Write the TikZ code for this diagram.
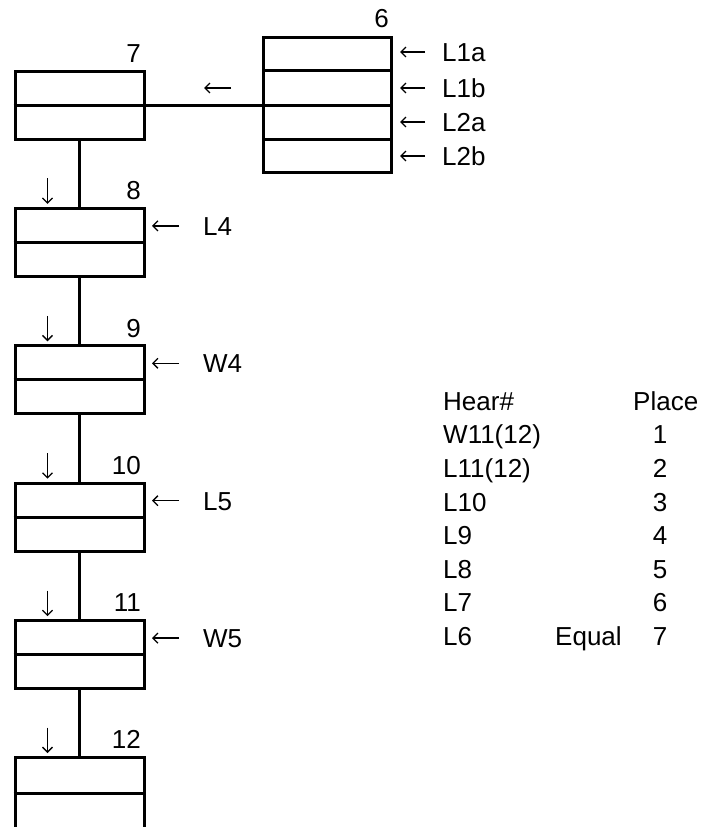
\documentclass[tikz,border=0pt]{standalone}
\usepackage{fontspec}
\setmainfont{Liberation Sans}
\usetikzlibrary{arrows.meta,calc}
\begin{document}
\begin{tikzpicture}[x=1pt,y=-1pt,
  box/.style={draw,line width=3pt,minimum width=129pt,minimum height=68pt,inner sep=0pt},
  tallbox/.style={box,minimum width=128pt,minimum height=135pt},
  txt/.style={inner sep=0pt,text height=18.6pt,text depth=0pt,font=\fontsize{26}{30}\selectfont},
  num/.style={txt,anchor=south east},
  link/.style={line width=3pt},
  pointer/.style={line width=1.3pt,-{Straight Barb[length=5pt,width=10pt]}},
]
\useasboundingbox (0,0) rectangle (708,827);

% stack of two-row boxes and the four-row box beside the top one
\node[tallbox] (b6) at (327.5,105) {};
\node[box] (b7) at (79.5,105) {};
\foreach \n/\y in {8/242.4,9/379.8,10/517.2,11/654.6}
  \node[box] (b\n) at (79.5,\y) {};
\node[box,minimum height=71pt] (b12) at (79.5,793) {};

% row dividers
\foreach \n in {7,...,12}
  \draw[link] (b\n.west) -- (b\n.east);
\foreach \f in {0.25,0.5,0.75}
  \draw[link] ($(b6.north west)!\f!(b6.south west)$) -- ($(b6.north east)!\f!(b6.south east)$);

% connectors
\draw[link] (b7.east) -- (b6.west);
\foreach \a/\b in {7/8,8/9,9/10,10/11,11/12}
  \draw[link] (b\a.south) -- (b\b.north);

% box numbers
\node[num] (n6) at ([xshift=-4pt,yshift=8.5pt]b6.north east) {6};
\foreach \n in {7,...,12}
  \node[num] (n\n) at ([xshift=-4.5pt,yshift=7pt]b\n.north east) {\n};

% flow arrows
\draw[pointer] ([xshift=85.5pt,yshift=17pt]b7.east) -- ([xshift=58.5pt,yshift=17pt]b7.east);
\foreach \n in {8,...,12}
  \draw[pointer] ([xshift=-32pt,yshift=28.5pt]b\n.north) -- ([xshift=-32pt,yshift=3pt]b\n.north);

% inputs of the four-row box
\foreach \nm/\t/\y in {la/L1a/52,lb/L1b/88,lc/L2a/122,ld/L2b/156} {
  \node[txt,anchor=west] (\nm) at (442,\y) {\t};
  \draw[pointer] ([xshift=-17pt]\nm.west) -- ([xshift=-42pt]\nm.west);
}

% inputs of the stacked boxes
\foreach \nm/\t/\b in {i8/L4/8,i9/W4/9,i10/L5/10,i11/W5/11} {
  \node[txt,anchor=west] (\nm) at ([yshift=16.5pt]b\b.center -| 203,0) {\t};
  \draw[pointer] ([xshift=-24pt]\nm.west) -- ([xshift=-51pt]\nm.west);
}

% ranking table
\node[txt,anchor=west] (hh) at (443,401) {Hear\#};
\node[txt,anchor=west] (hp) at (633,401) {Place};
\foreach \k/\t in {1/W11(12),2/L11(12),3/L10,4/L9,5/L8,6/L7,7/L6} {
  \node[txt,anchor=west] (r\k) at (443,401+33.6*\k) {\t};
  \node[txt] (p\k) at (660,401+33.6*\k) {\k};
}
\node[txt,anchor=west] (eq) at (555,636.2) {Equal};
\end{tikzpicture}
\end{document}
